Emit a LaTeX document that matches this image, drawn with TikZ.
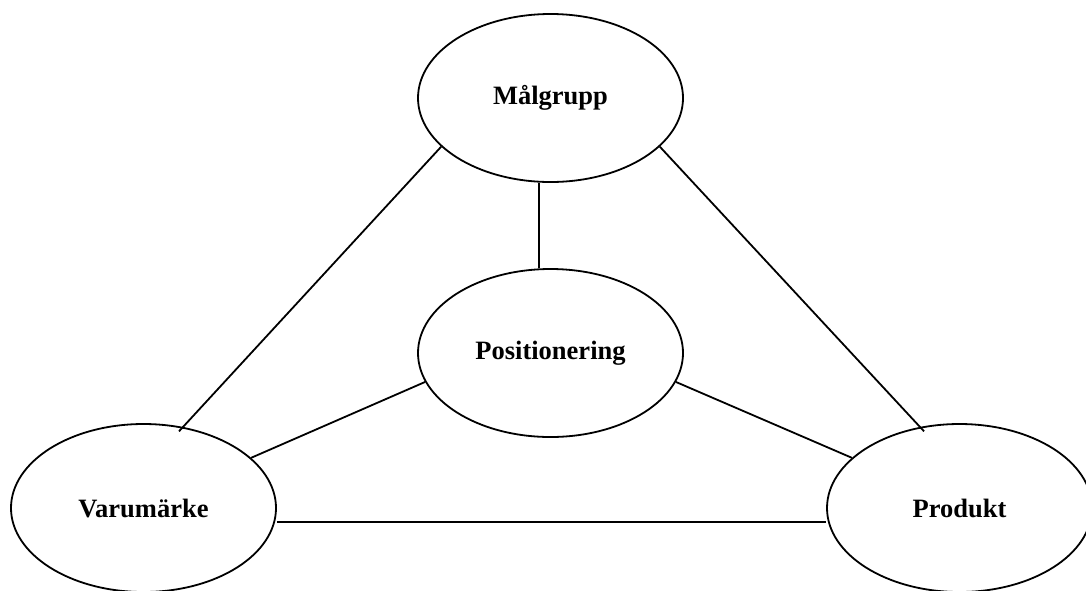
\documentclass[tikz,border=0pt]{standalone}
\usepackage{fontspec}
\setmainfont{Liberation Serif}
\usetikzlibrary{shapes.geometric}
\begin{document}
\begin{tikzpicture}[x=0.5pt,y=-0.5pt,
  oval/.style={draw,ellipse,line width=0.9pt,minimum width=132.5pt,minimum height=84pt,inner sep=0pt,
    font=\fontsize{13.25}{16}\selectfont\bfseries},
  link/.style={line width=0.9pt}]
\useasboundingbox (0,0) rectangle (1086,590);
\node[oval] (m) at (550.5,98) {Målgrupp};
\node[oval] (p) at (550.5,353) {Positionering};
\node[oval] (v) at (143.5,508) {Varumärke};
\node[oval] (r) at (959.5,508) {Produkt};
\draw[link,shorten >=-3pt] (m.204) -- (v.64);
\draw[link,shorten >=-3pt] (m.336) -- (r.116);
\draw[link] ([xshift=-5.75pt]m.south) -- ([xshift=-5.75pt]p.north);
\draw[link] (p.193) -- (v.25);
\draw[link] (p.347) -- (r.155);
\draw[link] ([yshift=-7pt]v.east) -- ([yshift=-7pt]r.west);
\end{tikzpicture}
\end{document}
